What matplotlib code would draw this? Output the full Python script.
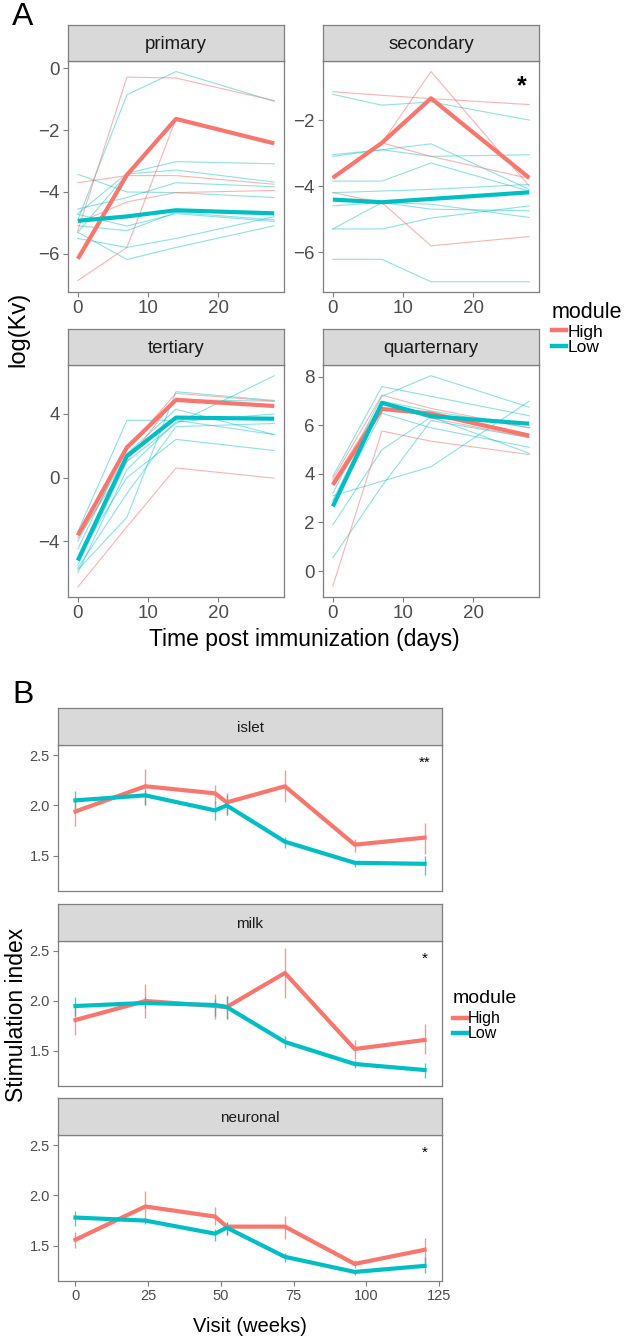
import matplotlib
matplotlib.use("Agg")
import matplotlib.pyplot as plt
from matplotlib.lines import Line2D

plt.rcParams['font.family'] = ['Liberation Sans', 'DejaVu Sans']

RED = '#F8766D'
TEAL = '#00BFC4'
GREY_TXT = '#4D4D4D'
BORDER = '#7F7F7F'

# ---------------- panel A data ----------------
days = [0, 7, 14, 28]
facets_a = ['primary', 'secondary', 'tertiary', 'quarternary']

primary_high_mean = [-6.16, -3.45, -1.64, -2.43]
primary_low_mean = [-4.93, -4.79, -4.59, -4.69]
primary_high = [
    [-5.25, -0.29, -0.32, -1.05],
    [-3.70, -3.47, -3.47, -3.75],
    [-6.86, -5.79, -1.64, -2.43],
    [-5.00, -4.32, -4.02, -3.95],
]
primary_low = [
    [-4.90, -0.86, -0.11, -1.07],
    [-3.43, -4.00, -4.02, -4.18],
    [-4.70, -3.40, -3.02, -3.09],
    [-5.30, -3.42, -3.29, -3.68],
    [-4.55, -4.18, -3.70, -3.83],
    [-5.09, -5.25, -4.66, -4.90],
    [-5.50, -5.79, -5.50, -4.80],
    [-5.30, -6.18, -5.79, -5.09],
    [-4.72, -5.10, -4.70, -4.95],
]

secondary_high_mean = [-3.75, -2.69, -1.34, -3.75]
secondary_low_mean = [-4.41, -4.49, -4.39, -4.19]
secondary_high = [
    [-1.14, -1.25, -1.35, -1.53],
    [-3.75, -2.69, -0.53, -4.00],
    [-4.20, -4.50, -5.81, -5.53],
    [-3.75, -2.69, -3.10, -3.77],
]
secondary_low = [
    [-1.22, -1.55, -1.45, -2.00],
    [-3.05, -2.90, -2.72, -4.10],
    [-3.10, -2.90, -3.10, -3.05],
    [-3.85, -3.85, -3.30, -4.15],
    [-4.20, -4.15, -4.10, -3.95],
    [-4.60, -4.50, -4.70, -4.75],
    [-5.30, -4.50, -4.55, -4.95],
    [-5.30, -5.30, -4.97, -4.60],
    [-6.22, -6.22, -6.90, -6.90],
]

tertiary_high_mean = [-3.64, 1.89, 4.88, 4.50]
tertiary_low_mean = [-5.22, 1.35, 3.77, 3.70]
tertiary_high = [
    [-6.90, -3.10, 0.60, -0.04],
    [-3.50, 1.80, 5.30, 4.80],
    [-3.80, 1.00, 5.00, 4.50],
]
tertiary_low = [
    [-3.40, 3.60, 3.60, 2.70],
    [-5.80, -2.50, 5.40, 4.85],
    [-5.50, 1.00, 3.40, 6.40],
    [-4.00, 1.50, 4.30, 2.70],
    [-5.00, 0.00, 2.40, 1.70],
    [-5.70, -1.00, 3.20, 3.40],
    [-4.50, 2.00, 4.90, 4.80],
    [-6.00, 0.50, 3.50, 4.00],
]

quarternary_high_mean = [3.55, 6.68, 6.49, 5.58]
quarternary_low_mean = [2.66, 6.93, 6.38, 6.07]
quarternary_high = [
    [-0.62, 5.77, 5.35, 4.80],
    [3.80, 7.25, 6.70, 5.90],
    [3.70, 6.90, 6.30, 5.50],
]
quarternary_low = [
    [3.90, 7.60, 7.20, 6.40],
    [3.20, 7.20, 8.05, 6.75],
    [2.70, 6.50, 5.90, 5.10],
    [1.90, 5.00, 6.35, 4.85],
    [0.55, 3.50, 6.20, 5.50],
    [3.10, 3.70, 4.30, 7.00],
    [2.90, 7.00, 6.60, 5.90],
]

# ---------------- panel B data ----------------
weeks = [0, 24, 48, 52, 72, 96, 120]
facets_b = ['islet', 'milk', 'neuronal']
stars_b = ['**', '*', '*']

islet_high = [1.94, 2.19, 2.12, 2.03, 2.19, 1.61, 1.68]
islet_high_lo = [1.80, 2.00, 2.02, 1.90, 2.03, 1.54, 1.52]
islet_high_hi = [2.08, 2.36, 2.20, 2.12, 2.35, 1.67, 1.83]
islet_low = [2.05, 2.10, 1.95, 2.00, 1.64, 1.43, 1.42]
islet_low_lo = [1.94, 2.00, 1.86, 1.90, 1.58, 1.39, 1.31]
islet_low_hi = [2.14, 2.15, 2.04, 2.10, 1.69, 1.45, 1.50]

milk_high = [1.81, 2.00, 1.95, 1.94, 2.28, 1.52, 1.61]
milk_high_lo = [1.66, 1.83, 1.82, 1.82, 2.03, 1.42, 1.47]
milk_high_hi = [1.96, 2.17, 2.07, 2.05, 2.53, 1.61, 1.77]
milk_low = [1.95, 1.98, 1.96, 1.94, 1.59, 1.37, 1.31]
milk_low_lo = [1.85, 1.93, 1.85, 1.82, 1.53, 1.33, 1.23]
milk_low_hi = [2.04, 2.04, 2.02, 2.05, 1.65, 1.41, 1.38]

neuronal_high = [1.56, 1.89, 1.79, 1.69, 1.69, 1.32, 1.46]
neuronal_high_lo = [1.48, 1.75, 1.71, 1.61, 1.57, 1.28, 1.33]
neuronal_high_hi = [1.64, 2.04, 1.88, 1.74, 1.80, 1.36, 1.58]
neuronal_low = [1.78, 1.75, 1.62, 1.68, 1.39, 1.24, 1.30]
neuronal_low_lo = [1.70, 1.72, 1.55, 1.61, 1.34, 1.21, 1.23]
neuronal_low_hi = [1.85, 1.78, 1.67, 1.74, 1.43, 1.26, 1.39]

W, H = 633, 1341
fig = plt.figure(figsize=(W / 100, H / 100), dpi=100)


def px_axes(x0, y0, x1, y1):
    """Create axes from a pixel box (top-left origin)."""
    return fig.add_axes([x0 / W, 1 - y1 / H, (x1 - x0) / W, (y1 - y0) / H])


def style_axes(ax, size):
    for s in ax.spines.values():
        s.set_color(BORDER)
        s.set_linewidth(0.9)
    ax.tick_params(colors=BORDER, labelcolor=GREY_TXT, labelsize=size,
                   length=3.5, width=0.8, direction='out', pad=2.5)


def add_strip(x0, y0, x1, y1, label, size):
    sax = px_axes(x0, y0, x1, y1)
    sax.set_facecolor('#D9D9D9')
    sax.set_xticks([])
    sax.set_yticks([])
    for s in sax.spines.values():
        s.set_color(BORDER)
        s.set_linewidth(0.9)
    sax.text(0.5, 0.47, label, ha='center', va='center', fontsize=size,
             color='#1A1A1A', transform=sax.transAxes)


def add_legend(x, y, title_size, label_size, hlen, spacing, sep):
    handles = [Line2D([], [], color=RED, lw=3.2), Line2D([], [], color=TEAL, lw=3.2)]
    leg = fig.legend(handles, ['High', 'Low'], title='module', loc='upper left',
                     bbox_to_anchor=(x / W, 1 - y / H), frameon=False,
                     fontsize=label_size, title_fontsize=title_size,
                     handlelength=hlen, handletextpad=0.08,
                     labelspacing=spacing, borderaxespad=0, borderpad=0)
    leg._legend_box.align = 'left'
    leg._legend_box.sep = sep
    return leg


# ---------------- panel A ----------------
boxes_a = [(68, 61, 284, 292), (323, 61, 539, 292),
           (68, 365, 284, 597), (323, 365, 539, 597)]
ylims_a = [(-7.23, 0.23), (-7.21, -0.21), (-7.52, 7.08), (-1.07, 8.49)]
yticks_a = [[-6, -4, -2, 0], [-6, -4, -2], [-4, 0, 4], [0, 2, 4, 6, 8]]
data_a = [
    (primary_high, primary_low, primary_high_mean, primary_low_mean),
    (secondary_high, secondary_low, secondary_high_mean, secondary_low_mean),
    (tertiary_high, tertiary_low, tertiary_high_mean, tertiary_low_mean),
    (quarternary_high, quarternary_low, quarternary_high_mean, quarternary_low_mean),
]

for name, box, yl, yt, (hi, lo, hi_m, lo_m) in zip(facets_a, boxes_a, ylims_a, yticks_a, data_a):
    ax = px_axes(*box)
    for row in lo:
        ax.plot(days, row, color=TEAL, lw=0.8, alpha=0.45)
    for row in hi:
        ax.plot(days, row, color=RED, lw=0.8, alpha=0.55)
    ax.plot(days, hi_m, color=RED, lw=3.0, solid_capstyle='butt')
    ax.plot(days, lo_m, color=TEAL, lw=3.0, solid_capstyle='butt')
    ax.set_xlim(-1.4, 29.4)
    ax.set_ylim(*yl)
    ax.set_xticks([0, 10, 20])
    ax.set_yticks(yt)
    style_axes(ax, 13.5)
    add_strip(box[0], box[1] - 36, box[2], box[1], name, 13.4)
    if name == 'secondary':
        ax.text(0.92, 0.89, '*', transform=ax.transAxes, ha='center', va='center',
                fontsize=18, fontweight='bold', color='black')

fig.text(12 / W, 1 - 17 / H, 'A', fontsize=23, ha='left', va='center')
fig.text(18 / W, 1 - 329 / H, 'log(Kv)', fontsize=17, rotation=90,
         ha='center', va='center')
fig.text(304 / W, 1 - 640 / H, 'Time post immunization (days)', fontsize=16.5,
         ha='center', va='center')

add_legend(552, 302, 15.5, 12.5, 0.8, 0.0, 1)

# ---------------- panel B ----------------
boxes_b = [(58, 745, 442, 891), (58, 941, 442, 1086), (58, 1135, 442, 1281)]
data_b = [
    (islet_high, islet_high_lo, islet_high_hi, islet_low, islet_low_lo, islet_low_hi),
    (milk_high, milk_high_lo, milk_high_hi, milk_low, milk_low_lo, milk_low_hi),
    (neuronal_high, neuronal_high_lo, neuronal_high_hi,
     neuronal_low, neuronal_low_lo, neuronal_low_hi),
]

for i, (name, star, box, d) in enumerate(zip(facets_b, stars_b, boxes_b, data_b)):
    h, h_lo, h_hi, l, l_lo, l_hi = d
    ax = px_axes(*box)
    ax.vlines(weeks, h_lo, h_hi, color=RED, lw=1.0, alpha=0.75)
    ax.vlines(weeks, l_lo, l_hi, color=TEAL, lw=1.0, alpha=0.75)
    ax.plot(weeks, h, color=RED, lw=3.0)
    ax.plot(weeks, l, color=TEAL, lw=3.0)
    ax.set_xlim(-6, 126)
    ax.set_ylim(1.15, 2.6)
    ax.set_yticks([1.5, 2.0, 2.5])
    ax.set_yticklabels(['1.5', '2.0', '2.5'])
    ax.set_xticks([0, 25, 50, 75, 100, 125])
    style_axes(ax, 10.5)
    if i < 2:
        ax.tick_params(axis='x', length=0, labelbottom=False)
    ax.text(0.955, 0.88, star, transform=ax.transAxes, ha='center', va='center',
            fontsize=11, color='black')
    add_strip(box[0], box[1] - 37, box[2], box[1], name, 11)

fig.text(12 / W, 1 - 695 / H, 'B', fontsize=23, ha='left', va='center')
fig.text(17 / W, 1 - 1015 / H, 'Stimulation index', fontsize=16.5, rotation=90,
         ha='center', va='center')
fig.text(250 / W, 1 - 1327 / H, 'Visit (weeks)', fontsize=14.5,
         ha='center', va='center')

add_legend(453, 990, 14, 11.5, 0.85, 0.0, 3)

fig.savefig('out.png', dpi=100)
